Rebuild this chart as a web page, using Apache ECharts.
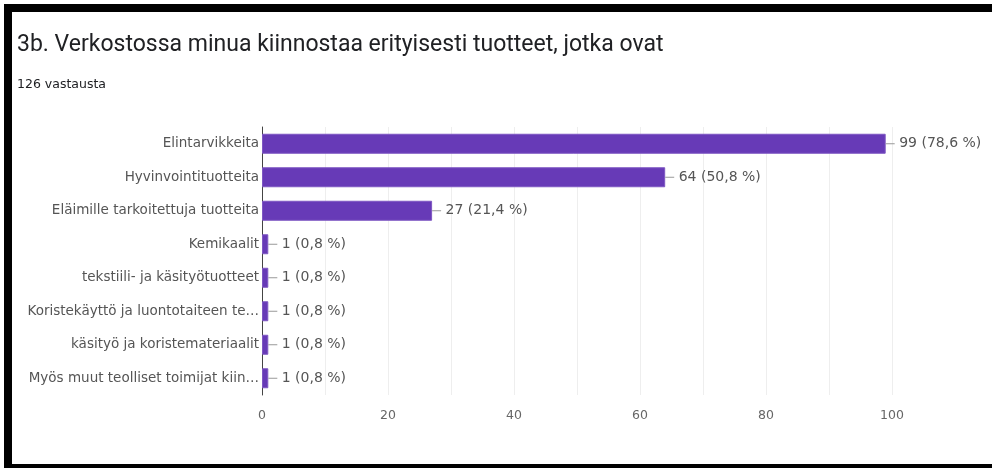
<!DOCTYPE html>
<html>
<head>
<meta charset="utf-8">
<script src="https://cdn.jsdelivr.net/npm/echarts@6/dist/echarts.min.js"></script>
<style>
  html, body { margin: 0; padding: 0; background: #fff; }
  #chart { position: absolute; left: 0; top: 0; width: 992px; height: 468px; }
  #frame {
    position: absolute; left: 4px; top: 4px; width: 988px; height: 452px;
    border-top: 8px solid #000; border-left: 8px solid #000; border-bottom: 4px solid #000;
    pointer-events: none;
  }
</style>
</head>
<body>
<div id="chart"></div>
<div id="frame"></div>
<script>
const categories = [
  'Elintarvikkeita',
  'Hyvinvointituotteita',
  'Eläimille tarkoitettuja tuotteita',
  'Kemikaalit',
  'tekstiili- ja käsityötuotteet',
  'Koristekäyttö ja luontotaiteen te…',
  'käsityö ja koristemateriaalit',
  'Myös muut teolliset toimijat kiin…'
]
const counts = [99, 64, 27, 1, 1, 1, 1, 1]
const percents = ['78,6', '50,8', '21,4', '0,8', '0,8', '0,8', '0,8', '0,8']
const xTicks = [0, 20, 40, 60, 80, 100]

const chart = echarts.init(document.getElementById('chart'))

const option = {
  backgroundColor: '#fff',
  animation: false,
  title: [{
    text: '3b. Verkostossa minua kiinnostaa erityisesti tuotteet, jotka ovat',
    left: 12, top: 29,
    textStyle: { fontFamily: 'Roboto', fontSize: 23, fontWeight: 'normal', color: '#202124' }
  }, {
    text: '126 vastausta',
    left: 12, top: 73,
    textStyle: { fontFamily: 'DejaVu Sans', fontSize: 12.5, fontWeight: 'normal', color: '#202124' }
  }],
  grid: { left: 262, right: 100, top: 127, bottom: 73 },
  xAxis: {
    type: 'value',
    min: 0, max: 100, interval: 10,
    axisLine: { show: false },
    axisTick: { show: false },
    axisLabel: {
      margin: 14,
      fontFamily: 'DejaVu Sans', fontSize: 12.5, color: '#666',
      formatter: (v) => xTicks.includes(v) ? String(v) : ''
    },
    splitLine: { lineStyle: { color: '#eeeeee', width: 1 } }
  },
  yAxis: {
    type: 'category',
    data: categories,
    inverse: true,
    axisLine: { show: true, lineStyle: { color: '#444', width: 1 } },
    axisTick: { show: false },
    axisLabel: { margin: 3, fontFamily: 'DejaVu Sans', fontSize: 13.5, color: '#555' },
    splitLine: { show: false }
  },
  series: [{
    type: 'bar',
    data: counts,
    barWidth: 20,
    itemStyle: { color: '#673ab7', borderColor: '#7e57c2', borderWidth: 1 },
    label: {
      show: true,
      position: 'right',
      distance: 0,
      formatter: (p) => `{l|}{t| ${p.value} (${percents[p.dataIndex]} %)}`,
      rich: {
        l: { width: 9, height: 1, backgroundColor: '#999' },
        t: { fontFamily: 'DejaVu Sans', fontSize: 14, color: '#555' }
      }
    }
  }]
}
chart.setOption(option)
</script>
</body>
</html>
